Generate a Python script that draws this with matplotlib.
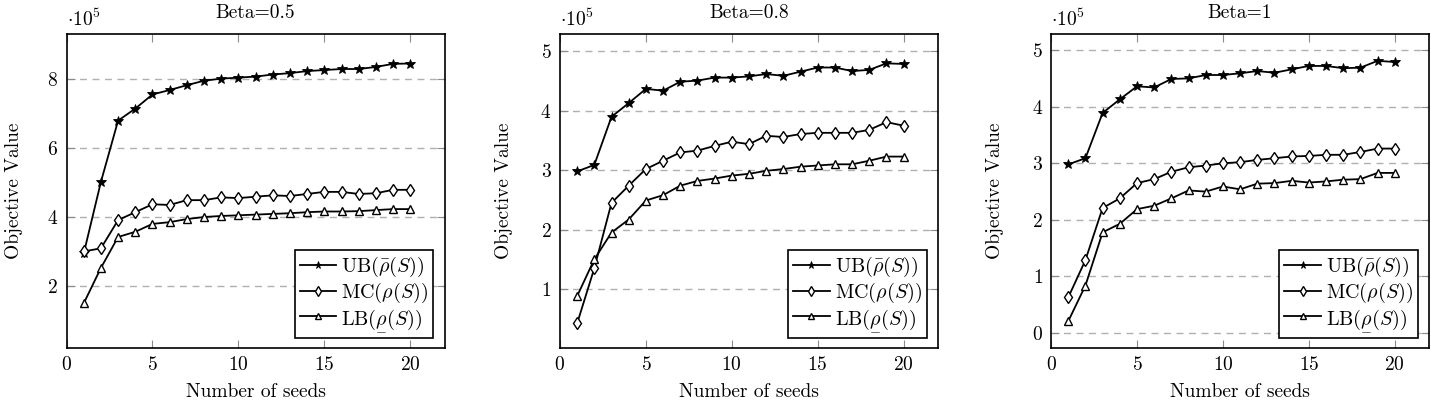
import matplotlib
matplotlib.use('Agg')
import matplotlib.pyplot as plt
from matplotlib.mathtext import MathTextParser

plt.rcParams['font.family'] = ['cmr10', 'DejaVu Serif']
plt.rcParams['mathtext.fontset'] = 'cm'
plt.rcParams['axes.formatter.use_mathtext'] = True
plt.rcParams['font.size'] = 14

# Number of seeds
seeds = list(range(1, 21))

# Objective values in units of 1e5
ub_05 = [2.94, 5.02, 6.80, 7.15, 7.56, 7.69, 7.83, 7.96, 8.02, 8.05,
         8.08, 8.14, 8.18, 8.24, 8.27, 8.30, 8.30, 8.36, 8.45, 8.46]
mc_05 = [3.00, 3.09, 3.91, 4.14, 4.37, 4.35, 4.49, 4.49, 4.57, 4.55,
         4.59, 4.63, 4.61, 4.67, 4.73, 4.73, 4.67, 4.69, 4.79, 4.79]
lb_05 = [1.49, 2.52, 3.42, 3.57, 3.80, 3.85, 3.94, 4.00, 4.03, 4.05,
         4.07, 4.09, 4.11, 4.14, 4.16, 4.16, 4.17, 4.20, 4.23, 4.23]

ub_08 = [2.98, 3.09, 3.90, 4.13, 4.37, 4.34, 4.49, 4.51, 4.56, 4.56,
         4.58, 4.62, 4.59, 4.66, 4.73, 4.73, 4.67, 4.69, 4.80, 4.79]
mc_08 = [0.42, 1.35, 2.45, 2.74, 3.02, 3.16, 3.30, 3.33, 3.41, 3.48,
         3.44, 3.58, 3.56, 3.61, 3.63, 3.63, 3.63, 3.68, 3.81, 3.75]
lb_08 = [0.88, 1.50, 1.95, 2.17, 2.49, 2.58, 2.74, 2.82, 2.86, 2.91,
         2.94, 2.99, 3.02, 3.06, 3.08, 3.10, 3.10, 3.16, 3.23, 3.23]

ub_1 = [2.98, 3.09, 3.89, 4.13, 4.36, 4.34, 4.49, 4.50, 4.56, 4.56,
        4.59, 4.63, 4.60, 4.66, 4.72, 4.72, 4.68, 4.69, 4.81, 4.79]
mc_1 = [0.63, 1.29, 2.21, 2.38, 2.65, 2.72, 2.85, 2.93, 2.96, 3.00,
        3.02, 3.06, 3.09, 3.12, 3.13, 3.15, 3.15, 3.20, 3.26, 3.26]
lb_1 = [0.21, 0.84, 1.78, 1.93, 2.19, 2.25, 2.38, 2.52, 2.50, 2.59,
        2.54, 2.64, 2.65, 2.69, 2.66, 2.68, 2.71, 2.72, 2.83, 2.83]

titles = ['Beta=0.5', 'Beta=0.8', 'Beta=1']
yticks = [[2, 4, 6, 8], [1, 2, 3, 4, 5], [0, 1, 2, 3, 4, 5]]
ylims = [(0.2, 9.31), (0.01, 5.29), (-0.26, 5.28)]


def lb_label():
    # mathtext may not know \underline, fall back to \underset
    for s in [r'LB($\underline{\rho}(S)$)', r'LB($\underset{-}{\rho}(S)$)']:
        try:
            MathTextParser('agg').parse(s[s.index('$'):s.rindex('$') + 1])
            return s
        except Exception:
            continue
    return r'LB($\rho(S)$)'


labels = [r'UB($\bar{\rho}(S)$)', r'MC($\rho(S)$)', lb_label()]

fig = plt.figure(figsize=(14.31, 4.03), dpi=100)
lefts = [0.0465, 0.3913, 0.7345]
ylab_x = [-0.114, -0.125, -0.125]
panels = [(ub_05, mc_05, lb_05), (ub_08, mc_08, lb_08), (ub_1, mc_1, lb_1)]

for i, (ub, mc, lb) in enumerate(panels):
    ax = fig.add_axes([lefts[i], 0.137, 0.2642, 0.778])
    ax.plot(seeds, ub, color='black', lw=1.3, marker='*', ms=7,
            mfc='black', mec='black', mew=0.6, label=labels[0])
    ax.plot(seeds, mc, color='black', lw=1.3, marker='d', ms=6.5,
            mfc='white', mec='black', mew=1.0, label=labels[1])
    ax.plot(seeds, lb, color='black', lw=1.3, marker='^', ms=6,
            mfc='white', mec='black', mew=1.0, label=labels[2])

    ax.set_xlim(0, 22)
    ax.set_ylim(*ylims[i])
    ax.set_xticks([0, 5, 10, 15, 20])
    ax.set_yticks(yticks[i])
    ax.yaxis.grid(True, color='#b0b0b0', linestyle=(0, (5, 4)), lw=1.0)
    ax.set_axisbelow(True)
    ax.tick_params(direction='in', top=True, right=True, length=6,
                   width=0.8, color='0.55', labelsize=14, pad=6)
    for sp in ax.spines.values():
        sp.set_linewidth(1.2)

    ax.set_title(titles[i], fontsize=14, pad=12)
    ax.set_xlabel('Number of seeds', fontsize=14)
    ax.xaxis.set_label_coords(0.5, -0.113)
    ax.set_ylabel('Objective Value', fontsize=14)
    ax.yaxis.set_label_coords(ylab_x[i], 0.5)
    ax.text(0.0, 1.012, r'$\cdot 10^5$', transform=ax.transAxes,
            ha='left', va='bottom', fontsize=14)

    leg = ax.legend(loc='lower right', bbox_to_anchor=(0.97, 0.03),
                    fancybox=False, framealpha=1, edgecolor='black',
                    fontsize=14.5, handlelength=1.8, borderpad=0.25,
                    labelspacing=0.12, handletextpad=0.25, borderaxespad=0,
                    markerscale=0.75)
    leg.get_frame().set_linewidth(1.2)

fig.savefig('out.png', dpi=100)
